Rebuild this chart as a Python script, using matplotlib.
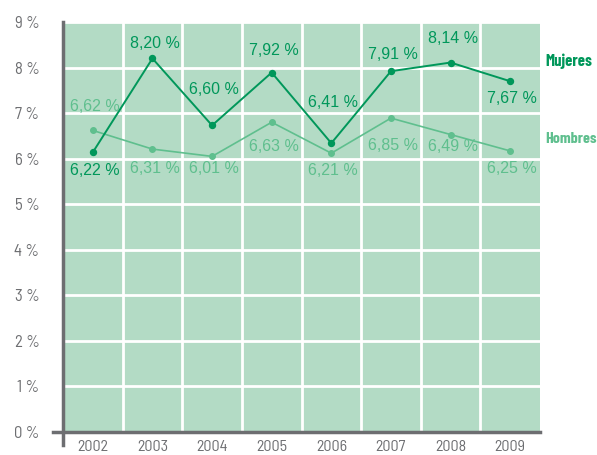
import matplotlib
matplotlib.use("Agg")
import matplotlib.pyplot as plt
import numpy as np

# data
years = ["2002", "2003", "2004", "2005", "2006", "2007", "2008", "2009"]
mujeres = [6.14, 8.20, 6.73, 7.89, 6.34, 7.92, 8.11, 7.70]
hombres = [6.62, 6.21, 6.05, 6.80, 6.12, 6.89, 6.53, 6.17]
mujeres_labels = [6.22, 8.20, 6.60, 7.92, 6.41, 7.91, 8.14, 7.67]
hombres_labels = [6.62, 6.31, 6.01, 6.63, 6.21, 6.85, 6.49, 6.25]

# label offsets in pixels (up is positive)
mujeres_off = [-18, 15, 36, 22, 41, 17, 24, -17]
hombres_off = [24, -19, -12, -24, -17, -27, -12, -18]

dark = "#00975a"
light = "#5fbf8e"
bg = "#b3dbc5"
grey = "#6d6e71"
tick_font = ["Barlow Semi Condensed", "DejaVu Sans"]
name_font = ["Barlow Condensed", "DejaVu Sans"]
lab_font = ["Liberation Sans", "DejaVu Sans"]

fig = plt.figure(figsize=(5.97, 4.55), dpi=100)
ax = fig.add_axes([63 / 597, 23 / 455, 477 / 597, 410 / 455])
ax.set_facecolor(bg)

x = np.arange(len(years))
ax.set_xlim(-0.5, len(years) - 0.5)
ax.set_ylim(0, 9)

# white grid
ax.set_xticks(x[:-1] + 0.5, minor=True)
ax.grid(which="minor", axis="x", color="white", lw=2)
ax.grid(which="major", axis="y", color="white", lw=2)
ax.set_axisbelow(True)

for s in ["top", "right", "bottom", "left"]:
    ax.spines[s].set_visible(False)

# axis lines that cross at the origin
tr = ax.transAxes
ax.plot([0, 0], [1, -13 / 410], transform=tr, color=grey, lw=2.5, clip_on=False)
ax.plot([-10 / 477, 1], [0, 0], transform=tr, color=grey, lw=2.5, clip_on=False)

ax.set_xticks(x, years)
ax.set_yticks(np.arange(0, 10), [f"{v} %" for v in range(10)])
ax.tick_params(axis="both", which="both", length=0)
ax.tick_params(axis="x", pad=6)
ax.tick_params(axis="y", pad=17)
for lab in ax.get_yticklabels():
    lab.set_fontfamily(tick_font)
    lab.set_fontsize(12)
    lab.set_color(grey)
for lab in ax.get_xticklabels():
    lab.set_fontfamily(tick_font)
    lab.set_fontsize(11.5)
    lab.set_color(grey)

ax.plot(x, hombres, color=light, lw=1.2, marker="o", ms=4, zorder=3)
ax.plot(x, mujeres, color=dark, lw=1.4, marker="o", ms=4.3, zorder=4)

for xi, yi, v, o in zip(x, mujeres, mujeres_labels, mujeres_off):
    ax.annotate(f"{v:.2f} %".replace(".", ","), (xi, yi), xytext=(2, o),
                textcoords="offset pixels", ha="center", va="center",
                fontsize=11.5, color=dark, family=lab_font, zorder=5)
for xi, yi, v, o in zip(x, hombres, hombres_labels, hombres_off):
    ax.annotate(f"{v:.2f} %".replace(".", ","), (xi, yi), xytext=(2, o),
                textcoords="offset pixels", ha="center", va="center",
                fontsize=11.5, color=light, family=lab_font, zorder=5)

# series names at the right
fig.text(545 / 597, 1 - 61 / 455, "Mujeres", color=dark, fontsize=12,
         fontweight="bold", family=name_font, va="center")
fig.text(545 / 597, 1 - 139 / 455, "Hombres", color=light, fontsize=11.5,
         fontweight="bold", family=name_font, va="center")

fig.savefig("out.png", dpi=100)
